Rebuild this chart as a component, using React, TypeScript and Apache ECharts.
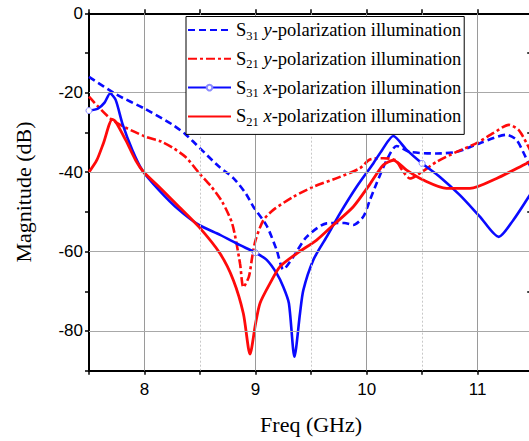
import React, { useEffect, useRef } from 'react';
import * as echarts from 'echarts';

// S31 y-polarization (blue dashed)
const s31yFreq = [7.5, 7.75, 8.0, 8.25, 8.37, 8.5, 8.67, 8.8, 8.91, 8.98, 9.1, 9.19, 9.25, 9.34, 9.46, 9.64, 9.8, 9.88, 9.97, 10.03, 10.09, 10.18, 10.27, 10.39, 10.63, 10.81, 11.02, 11.26, 11.35, 11.43, 11.5];
const s31yMag = [-16.0, -20.5, -24.0, -28.0, -30.5, -34.0, -38.6, -41.5, -45.3, -48.7, -53.5, -59.6, -64.5, -61.3, -56.3, -52.9, -52.8, -53.3, -51.2, -47.0, -42.8, -37.0, -33.4, -34.9, -35.3, -34.9, -32.7, -30.6, -31.9, -36.1, -40.0];

// S21 y-polarization (red dash-dot)
const s21yFreq = [7.5, 7.71, 8.01, 8.15, 8.25, 8.37, 8.5, 8.6, 8.7, 8.79, 8.86, 8.89, 8.94, 8.97, 9.0, 9.07, 9.16, 9.34, 9.52, 9.76, 9.94, 10.03, 10.15, 10.26, 10.32, 10.39, 10.5, 10.63, 10.81, 10.99, 11.14, 11.28, 11.37, 11.44, 11.5];
const s21yMag = [-21.0, -26.9, -31.1, -32.3, -33.8, -36.2, -40.5, -43.6, -47.5, -53.0, -63.0, -69.0, -66.3, -61.3, -57.1, -52.1, -49.5, -46.2, -43.7, -41.2, -39.0, -36.8, -36.5, -37.0, -39.5, -41.6, -39.9, -37.4, -34.9, -32.7, -30.2, -28.1, -29.4, -32.7, -36.0];

// S31 x-polarization (blue solid, markers)
const s31xFreq = [7.5, 7.58, 7.64, 7.69, 7.74, 7.8, 7.89, 7.98, 8.13, 8.31, 8.49, 8.68, 8.86, 9.0, 9.1, 9.19, 9.25, 9.3, 9.35, 9.4, 9.43, 9.52, 9.64, 9.76, 9.91, 10.06, 10.14, 10.24, 10.36, 10.5, 10.66, 10.84, 11.02, 11.19, 11.32, 11.46, 11.5];
const s31xMag = [-24.5, -24.0, -22.5, -20.2, -21.8, -27.7, -34.4, -39.5, -44.5, -49.5, -53.3, -55.8, -58.4, -60.3, -62.1, -65.5, -68.9, -73.0, -86.5, -75.6, -69.7, -62.1, -56.3, -50.4, -43.7, -37.8, -34.4, -30.9, -34.4, -37.8, -41.2, -45.8, -51.2, -56.3, -52.1, -46.2, -44.5];
const markerFreqs = [7.5, 9.0, 10.5];

// S21 x-polarization (red solid)
const s21xFreq = [7.5, 7.57, 7.63, 7.71, 7.74, 7.83, 7.92, 7.99, 8.13, 8.31, 8.49, 8.68, 8.8, 8.89, 8.95, 9.0, 9.04, 9.13, 9.22, 9.37, 9.55, 9.7, 9.88, 10.03, 10.15, 10.24, 10.36, 10.51, 10.72, 10.93, 11.17, 11.44, 11.5];
const s21xMag = [-40.0, -37.0, -32.7, -26.7, -27.3, -31.9, -37.0, -39.9, -43.7, -48.7, -53.8, -60.5, -67.2, -75.6, -85.8, -78.1, -73.0, -68.0, -63.8, -60.5, -57.1, -53.3, -48.7, -43.0, -38.2, -37.0, -39.5, -42.0, -44.1, -44.1, -41.6, -37.8, -37.0];

const legendNames = [
  'S31 y-polarization illumination',
  'S21 y-polarization illumination',
  'S31 x-polarization illumination',
  'S21 x-polarization illumination',
];
const legendWithMarker = [false, false, true, false];

const xGridMajor = [8, 9, 10, 11];
const xGridMinor = [8.5, 9.5, 10.5];
const yGridLines = [-20, -40, -60, -80];

const BLUE = '#0a0aff';
const RED = '#ff0a0a';

function pairs(xs: number[], ys: number[]) {
  return xs.map((x, i) => [x, ys[i]]);
}

export default function App() {
  const ref = useRef<HTMLDivElement>(null);
  useEffect(() => {
    const chart = echarts.init(ref.current!, null, { renderer: 'svg' });
    const serif = 'Liberation Serif, Times New Roman, serif';
    const sans = 'Liberation Sans, Arial, sans-serif';

    const s31xData = s31xFreq.map((x, i) => {
      const isMarker = markerFreqs.some((m) => Math.abs(m - x) < 1e-6);
      return isMarker
        ? { value: [x, s31xMag[i]] }
        : { value: [x, s31xMag[i]], symbol: 'none' };
    });

    const gridLineData: any[] = [
      ...xGridMajor.map((v) => ({ xAxis: v, lineStyle: { color: '#9a9a9a', width: 1, type: 'solid' } })),
      ...xGridMinor.map((v) => ({ xAxis: v, lineStyle: { color: '#c8c8c8', width: 1, type: [2, 2] } })),
      ...yGridLines.map((v) => ({ yAxis: v, lineStyle: { color: '#a8a8a8', width: 1.2, type: 'solid' } })),
    ];

    const common = {
      type: 'line' as const,
      smooth: 0.25,
      z: 3,
      xAxisIndex: 0,
      yAxisIndex: 0,
    };

    chart.setOption({
      animation: false,
      backgroundColor: '#fff',
      grid: { left: 89, top: 13.3, right: 6.8, bottom: 70.3, containLabel: false },
      legend: {
        data: legendNames.map((n, i) =>
          legendWithMarker[i]
            ? { name: n }
            : { name: n, itemStyle: { opacity: 0, color: 'rgba(0,0,0,0)', borderWidth: 0 } }
        ),
        orient: 'vertical',
        left: 186,
        top: 16.5,
        padding: [4, 3, 6, 1],
        itemGap: 7.3,
        itemWidth: 43,
        itemHeight: 7,
        backgroundColor: '#fff',
        borderColor: '#000',
        borderWidth: 1,
        borderRadius: 0,
        z: 10,
        formatter: (name: string) => {
          const m = name.match(/^S(\d+) (\w)(.*)$/);
          if (!m) return name;
          return `{m|S}{sub|${m[1]}}{m| }{it|${m[2]}}{m|${m[3]}}`;
        },
        textStyle: {
          color: '#000',
          fontFamily: serif,
          fontSize: 18.5,
          rich: {
            m: { fontFamily: serif, fontSize: 18.5, lineHeight: 24, color: '#000' },
            it: { fontFamily: serif, fontSize: 18.5, lineHeight: 24, fontStyle: 'italic', color: '#000' },
            sub: { fontFamily: serif, fontSize: 12.5, lineHeight: 12, verticalAlign: 'bottom', color: '#000' },
          },
        },
      },
      xAxis: [
        {
          type: 'value',
          position: 'bottom',
          min: 7.5,
          max: 11.5,
          interval: 0.5,
          name: 'Freq (GHz)',
          nameLocation: 'middle',
          nameGap: 43,
          nameTextStyle: { fontFamily: serif, fontSize: 22, color: '#000' },
          axisLine: { show: true, onZero: false, lineStyle: { color: '#000', width: 2 } },
          axisTick: { show: true, inside: false, length: 4, lineStyle: { color: '#000', width: 1.5 } },
          axisLabel: {
            fontFamily: sans,
            fontSize: 17,
            color: '#000',
            margin: 10,
            formatter: (v: number) => (Math.abs(v - Math.round(v)) < 1e-6 ? String(Math.round(v)) : ''),
          },
          splitLine: { show: false },
        },
        {
          type: 'value',
          position: 'top',
          min: 7.5,
          max: 11.5,
          interval: 0.5,
          axisLine: { show: true, onZero: false, lineStyle: { color: '#000', width: 2 } },
          axisTick: { show: true, inside: false, length: 4, lineStyle: { color: '#000', width: 1.5 } },
          axisLabel: { show: false },
          splitLine: { show: false },
        },
      ],
      yAxis: [
        {
          type: 'value',
          position: 'left',
          min: -90,
          max: 0,
          interval: 10,
          name: 'Magnitude (dB)',
          nameLocation: 'middle',
          nameGap: 55,
          nameTextStyle: { fontFamily: serif, fontSize: 22, color: '#000' },
          axisLine: { show: true, onZero: false, lineStyle: { color: '#000', width: 2 } },
          axisTick: { show: true, inside: false, length: 4, lineStyle: { color: '#000', width: 1.5 } },
          axisLabel: {
            fontFamily: sans,
            fontSize: 17,
            color: '#000',
            margin: 6,
            formatter: (v: number) => (Math.round(v) % 20 === 0 ? String(Math.round(v)) : ''),
          },
          splitLine: { show: false },
        },
        {
          type: 'value',
          position: 'right',
          min: -90,
          max: 0,
          interval: 20,
          axisLine: { show: true, onZero: false, lineStyle: { color: '#000', width: 2 } },
          axisTick: { show: true, inside: true, length: 6, lineStyle: { color: '#000', width: 1.5 } },
          axisLabel: { show: false },
          splitLine: { show: false },
        },
      ],
      series: [
        {
          type: 'line',
          name: '__grid',
          data: [],
          z: 1,
          silent: true,
          markLine: {
            silent: true,
            symbol: ['none', 'none'],
            label: { show: false },
            emphasis: { disabled: true },
            data: gridLineData,
          },
        },
        {
          ...common,
          name: legendNames[0],
          data: pairs(s31yFreq, s31yMag),
          showSymbol: false,
          symbol: 'none',
          lineStyle: { color: BLUE, width: 2.6, type: [7, 4] },
          itemStyle: { color: BLUE },
        },
        {
          ...common,
          name: legendNames[1],
          data: pairs(s21yFreq, s21yMag),
          showSymbol: false,
          symbol: 'none',
          lineStyle: { color: RED, width: 2.6, type: [9, 3, 3, 3] },
          itemStyle: { color: RED },
        },
        {
          ...common,
          name: legendNames[2],
          data: s31xData,
          showSymbol: true,
          showAllSymbol: true,
          symbol: 'circle',
          symbolSize: 6,
          lineStyle: { color: BLUE, width: 2.6 },
          itemStyle: { color: '#fff', borderColor: '#8a8aff', borderWidth: 1 },
        },
        {
          ...common,
          name: legendNames[3],
          data: pairs(s21xFreq, s21xMag),
          showSymbol: false,
          symbol: 'none',
          lineStyle: { color: RED, width: 2.8 },
          itemStyle: { color: RED },
        },
      ],
    });
    return () => chart.dispose();
  }, []);
  return (
    <div style={{ position: 'fixed', left: 0, top: 0, width: 529, height: 441, overflow: 'hidden', background: '#fff' }}>
      <div ref={ref} style={{ width: 540, height: 441 }} />
    </div>
  );
}
